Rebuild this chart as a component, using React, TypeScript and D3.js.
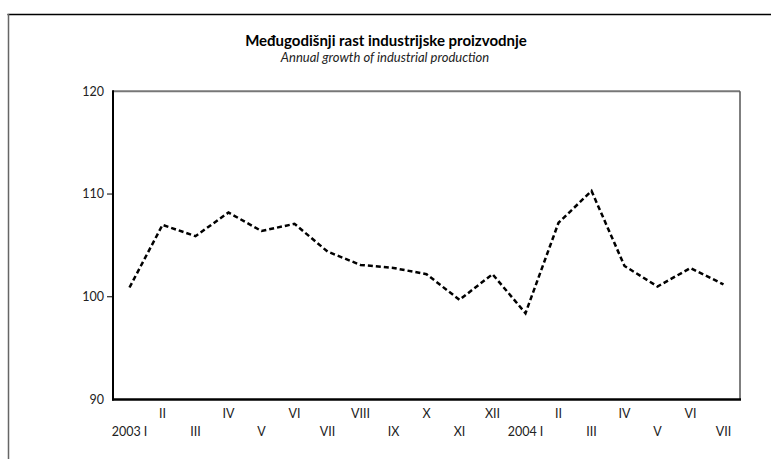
import React from "react";
import * as d3 from "d3";

const categories = ["2003 I","II","III","IV","V","VI","VII","VIII","IX","X","XI","XII","2004 I","II","III","IV","V","VI","VII"];
const values = [100.9,107.0,105.9,108.2,106.4,107.1,104.4,103.1,102.8,102.2,99.7,102.2,98.4,107.2,110.3,103.0,101.0,102.8,101.2];
const yTicks = [90,100,110,120];
const title = "Međugodišnji rast industrijske proizvodnje";
const subtitle = "Annual growth of industrial production";

const W = 771, H = 459;
const left = 113, right = 740, top = 91.3, bottom = 399.5;
const FONT = "Lato, 'Open Sans', sans-serif";

export default function App() {
  const idx = categories.map((_, i) => String(i));
  const x = d3.scaleBand<string>().domain(idx).range([left, right]);
  const y = d3.scaleLinear().domain([90, 120]).range([bottom, top]);
  const cx = (i: number) => (x(String(i)) as number) + x.bandwidth() / 2;
  const line = d3.line<number>().x((_, i) => cx(i)).y((d) => y(d));

  return (
    <div style={{ position: "fixed", left: 0, top: 0 }}>
      <svg width={W} height={H} style={{ display: "block", background: "#fff" }}>
        {/* outer frame */}
        <line x1={7.5} y1={14.5} x2={W} y2={14.5} stroke="#000" strokeWidth={1.5} />
        <line x1={8.5} y1={14} x2={8.5} y2={H} stroke="#666" strokeWidth={1.5} />

        <text x={386} y={46} textAnchor="middle" fontFamily={FONT} fontWeight="bold" fontSize={15} fill="#000">{title}</text>
        <text x={385} y={62} textAnchor="middle" fontFamily={FONT} fontStyle="italic" fontSize={13} fill="#222">{subtitle}</text>

        {/* plot borders */}
        <line x1={left} y1={top} x2={right} y2={top} stroke="#777" strokeWidth={2} />
        <line x1={right} y1={top} x2={right} y2={bottom} stroke="#555" strokeWidth={1.5} />
        <line x1={left} y1={top - 1} x2={left} y2={bottom + 1} stroke="#000" strokeWidth={2} />
        <line x1={left - 1} y1={bottom} x2={right + 1} y2={bottom} stroke="#000" strokeWidth={2.5} />

        {yTicks.map((t) => (
          <g key={t}>
            {t !== 90 && t !== 120 && (
              <line x1={left - 6} x2={left} y1={y(t)} y2={y(t)} stroke="#000" strokeWidth={1} />
            )}
            <text x={104} y={y(t)} dy="0.35em" textAnchor="end" fontFamily={FONT} fontSize={12.5} fill="#222">{t}</text>
          </g>
        ))}

        {categories.map((c, i) => (
          <text key={i} x={cx(i)} y={i % 2 === 1 ? 418 : 436} textAnchor="middle" fontFamily={FONT} fontSize={12.5} fill="#222">{c}</text>
        ))}

        <path d={line(values) || ""} fill="none" stroke="#000" strokeWidth={2.5} strokeDasharray="5,3" />
      </svg>
    </div>
  );
}
